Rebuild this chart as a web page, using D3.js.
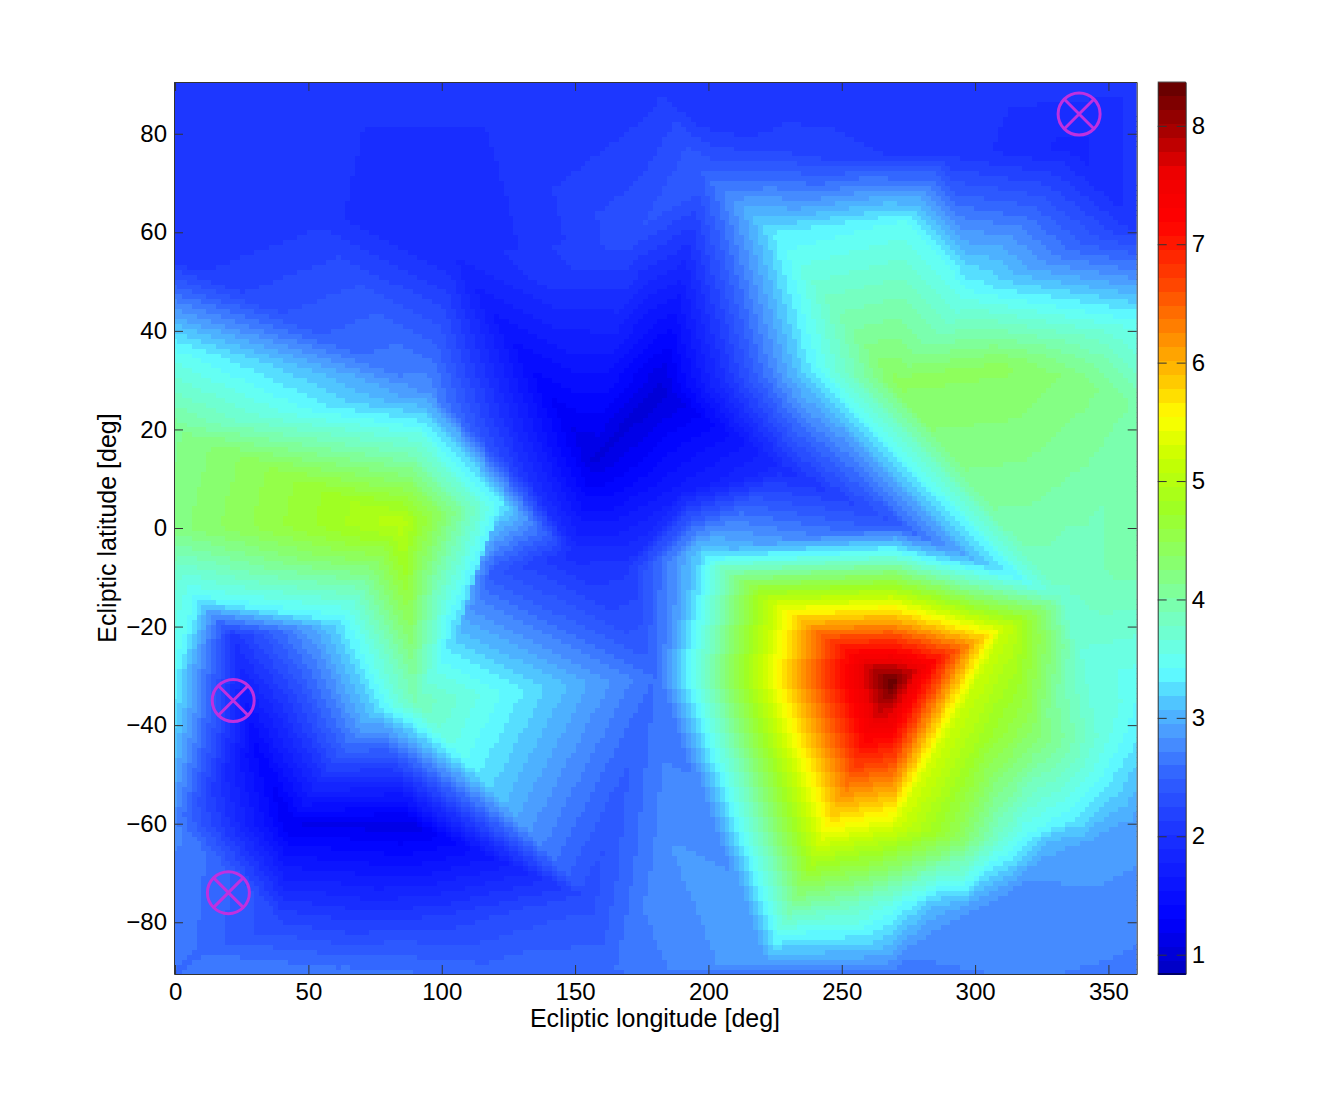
<!DOCTYPE html>
<html>
<head>
<meta charset="utf-8">
<script src="https://cdn.jsdelivr.net/npm/d3@7"></script>
<style>
  body { margin: 0; background: #fff; }
  text { font-family: "Liberation Sans", Arial, sans-serif; fill: #000; }
  .axis text { font-size: 24px; }
  .axis line, .axis path { stroke: #333; }
</style>
</head>
<body>
<script>
var nodeLon = [0,60,120,180,240,300,360,
  0,0,0,0,0,0,0,0,0,
  50,105,130,172,198,225,140,198,
  95,85,122,135,120,105,90,62,75,8,22,30,43,88,155,40,100,8,60,120,165,
  157,182,150,170,190,228,197,180,186,222,
  269,270,270,238,224,274,298,360,310,340,360,333,342,360,360,360,360,270,320,360,345,337,360,250,290,
  312,270,303,323,348,294,310,318,328,250,269,285,297,340,345,320,338,352];
var nodeLat = [90,90,90,90,90,90,90,
  55,37,20,0,-10,-30,-45,-60,-90,
  65,55,72,60,72,78,50,82,
  28,1,5,8,-9,-22,-35,-19,-37,-14,-22,-44,-60,-60,-75,-80,-80,-86,-90,-90,-90,
  14,28,-5,-8,8,12,-5,-30,-64,-88,
  -31,1,30,32,60,62,47,42,33,30,25,-14,-4,-5,-30,-42,-60,-90,-90,-90,-85,77,62,76,76,
  -20,-60,-42,-42,-42,-63,-63,-63,-63,-76,-76,-76,-78,-25,-64,-71,-59,-53];
var nodeVal = [2.05,2.05,2.05,2.08,2.1,2.1,2.05,
  2.05,3.4,4.1,4.2,3.7,3.4,3.1,2.75,2.6,
  2.05,1.9,2.05,2.35,2.5,2.15,2.05,2.1,
  2.8,5.05,3.35,2.0,2.4,3.15,3.9,3.3,3.2,3.4,2.05,1.4,1.2,1.1,2.3,2.25,2.2,2.6,2.65,2.55,2.6,
  1.05,1.0,1.95,2.1,1.7,1.95,3.2,2.6,2.84,2.95,
  8.37,2.4,4.4,3.3,3.3,3.45,3.5,3.45,4.4,4.2,4.0,3.75,3.85,4.0,3.5,3.35,2.9,2.68,2.74,2.68,2.75,1.85,2.05,2.15,2.1,
  5.15,5.3,4.8,4.3,3.6,4.4,3.7,3.4,3.1,3.9,3.55,3.1,2.84,3.65,2.9,2.84,3.3,3.25];

// triangles whose edges show in the picture, tried before the delaunay ones
var seenTriangles = [
  [0,37, 95,28, 0,20], [0,55, 95,28, 0,37], [0,20, 95,28, 85,1], [0,20, 85,1, 0,0],
  [0,55, 50,65, 95,28], [50,65, 105,55, 95,28],
  [95,28, 122,5, 85,1], [95,28, 135,8, 122,5], [95,28, 157,14, 135,8], [95,28, 105,55, 157,14],
  [157,14, 140,50, 105,55], [157,14, 172,60, 140,50], [105,55, 140,50, 172,60], [157,14, 182,28, 172,60],
  [182,28, 198,72, 172,60], [182,28, 198,72, 224,60], [182,28, 224,60, 238,32], [198,72, 225,78, 224,60],
  [224,60, 274,62, 270,30], [224,60, 270,30, 238,32],
  [182,28, 238,32, 228,12], [238,32, 270,1, 228,12], [238,32, 270,30, 270,1], [270,1, 270,30, 333,-14], [197,-5, 270,1, 228,12],
  [270,30, 310,33, 333,-14], [310,33, 340,30, 333,-14], [340,30, 342,-4, 333,-14], [340,30, 360,25, 342,-4],
  [269,-31, 270,1, 197,-5], [269,-31, 197,-5, 180,-30], [269,-31, 180,-30, 222,-88], [269,-31, 222,-88, 270,-60],
  [269,-31, 270,-60, 312,-20], [269,-31, 312,-20, 270,1], [270,1, 312,-20, 333,-14],
  [180,-30, 222,-88, 186,-64],
  [270,-60, 312,-20, 303,-42], [270,-60, 303,-42, 294,-63], [270,-60, 294,-63, 269,-76], [270,-60, 269,-76, 250,-76], [270,-60, 250,-76, 222,-88],
  [222,-88, 250,-76, 270,-90], [250,-76, 269,-76, 270,-90],
  [312,-20, 333,-14, 340,-25], [312,-20, 340,-25, 323,-42], [312,-20, 323,-42, 303,-42],
  [85,1, 90,-35, 62,-19], [85,1, 90,-35, 105,-22], [85,1, 105,-22, 122,5], [8,-14, 62,-19, 85,1], [0,0, 8,-14, 85,1],
  [90,-35, 75,-37, 62,-19], [90,-35, 105,-22, 180,-30], [90,-35, 180,-30, 155,-75], [90,-35, 155,-75, 88,-60]
];

// colormap stops
var cmapVal = [0.84,1.3,2.0,2.5,2.85,3.15,3.4,3.9,4.3,4.8,5.2,5.55,5.8,6.2,6.7,7.2,7.6,8.0,8.37];
var cmapCol = ["#0000c0","#0000ff","#1a30ff","#3060ff","#4a96ff","#50c8ff","#60ffff","#78ffb8","#88ff70","#a0ff20","#c8ff00","#ffff00","#ffd000","#ff9000","#ff4000","#ff0000","#ee0000","#a00000","#600000"];

var xTicks = [0,50,100,150,200,250,300,350];
var yTicks = [-80,-60,-40,-20,0,20,40,60,80];
var cbTicks = [1,2,3,4,5,6,7,8];

// the three circled crosses
var markerLon = [339,21.8,20];
var markerLat = [84,-35,-74];

var nBands = 64, cMin = 0.837, cMax = 8.37;
var lonStep = 1.8, latStep = 1;

var margin = {top: 82, left: 174},
    width = 962.7,
    height = 892;

var x = d3.scaleLinear().domain([-0.4, 360.6]).range([0, width]);
var y = d3.scaleLinear().domain([90.5, -90.5]).range([0, height]);

var color = d3.scaleLinear().domain(cmapVal).range(cmapCol);
var band = d3.scaleQuantize().domain([cMin, cMax]).range(d3.range(nBands));
function bandColor(i) { return color(cMin + (i + 0.5) * (cMax - cMin) / nBands); }

var svg = d3.select("body").append("svg")
    .attr("width", 1336)
    .attr("height", 1096)
    .style("display", "block");

svg.append("defs").append("clipPath").attr("id", "plot")
    .append("rect").attr("width", width).attr("height", height);

var g = svg.append("g").attr("transform", "translate(" + margin.left + "," + margin.top + ")");

// linear interpolation on triangles of the points, triangulated in screen space
var delaunay = d3.Delaunay.from(nodeLon.map(function(d, i) { return [x(d), y(nodeLat[i])]; }));

function nodeIndex(lon, lat) {
    for (var i = 0; i < nodeLon.length; i++) {
        if (nodeLon[i] == lon && nodeLat[i] == lat) return i;
    }
    throw new Error("no node " + lon + "," + lat);
}

var tri = [];
seenTriangles.forEach(function(t) {
    tri.push(nodeIndex(t[0], t[1]), nodeIndex(t[2], t[3]), nodeIndex(t[4], t[5]));
});
delaunay.triangles.forEach(function(d) { tri.push(d); });

function valueAt(lon, lat) {
    for (var t = 0; t < tri.length; t += 3) {
        var a = tri[t], b = tri[t + 1], c = tri[t + 2];
        var det = (nodeLat[b] - nodeLat[c]) * (nodeLon[a] - nodeLon[c]) + (nodeLon[c] - nodeLon[b]) * (nodeLat[a] - nodeLat[c]);
        var w1 = ((nodeLat[b] - nodeLat[c]) * (lon - nodeLon[c]) + (nodeLon[c] - nodeLon[b]) * (lat - nodeLat[c])) / det;
        var w2 = ((nodeLat[c] - nodeLat[a]) * (lon - nodeLon[c]) + (nodeLon[a] - nodeLon[c]) * (lat - nodeLat[c])) / det;
        var w3 = 1 - w1 - w2;
        if (w1 >= -1e-9 && w2 >= -1e-9 && w3 >= -1e-9) return w1 * nodeVal[a] + w2 * nodeVal[b] + w3 * nodeVal[c];
    }
    return cMin;
}

var cells = [];
d3.range(0, 201).forEach(function(i) {
    d3.range(0, 181).forEach(function(j) {
        var lon = i * lonStep, lat = -90 + j * latStep;
        cells.push({lon: lon, lat: lat, v: valueAt(lon, lat)});
    });
});

g.append("g")
    .attr("clip-path", "url(#plot)")
    .attr("shape-rendering", "crispEdges")
    .selectAll("rect")
    .data(cells)
    .enter()
    .append("rect")
    .attr("x", function(d) { return x(d.lon - lonStep / 2); })
    .attr("y", function(d) { return y(d.lat + latStep / 2); })
    .attr("width", x(lonStep) - x(0) + 0.5)
    .attr("height", y(0) - y(latStep) + 0.5)
    .attr("fill", function(d) { return bandColor(band(d.v)); });

// axes, ticks point inward on all four sides
var tickIn = 9;
g.append("g").attr("class", "axis").attr("transform", "translate(0," + height + ")")
    .call(d3.axisBottom(x).tickValues(xTicks).tickSizeInner(-tickIn).tickSizeOuter(0).tickPadding(9).tickFormat(d3.format("d")));
g.append("g").attr("class", "axis")
    .call(d3.axisLeft(y).tickValues(yTicks).tickSizeInner(-tickIn).tickSizeOuter(0).tickPadding(7).tickFormat(d3.format("d")));
g.append("g").attr("class", "axis")
    .call(d3.axisTop(x).tickValues(xTicks).tickSizeInner(-tickIn).tickSizeOuter(0).tickFormat(""));
g.append("g").attr("class", "axis").attr("transform", "translate(" + width + ",0)")
    .call(d3.axisRight(y).tickValues(yTicks).tickSizeInner(-tickIn).tickSizeOuter(0).tickFormat(""));

// markers
var markerColor = "#c030e0";
var marks = g.selectAll(".marker")
    .data(markerLon)
    .enter()
    .append("g")
    .attr("class", "marker")
    .attr("transform", function(d, i) { return "translate(" + x(d) + "," + y(markerLat[i]) + ")"; })
    .attr("fill", "none")
    .attr("stroke", markerColor)
    .attr("stroke-width", 3);
marks.append("circle").attr("r", 21);
marks.append("path").attr("d", "M-15,-15L15,15M-15,15L15,-15");

// axis labels
svg.append("text")
    .attr("x", 655)
    .attr("y", 1027)
    .attr("text-anchor", "middle")
    .style("font-size", "25px")
    .text("Ecliptic longitude [deg]");

svg.append("text")
    .attr("transform", "translate(116,528) rotate(-90)")
    .attr("text-anchor", "middle")
    .style("font-size", "25px")
    .text("Ecliptic latitude [deg]");

// colorbar
var cbX = 1157.7, cbW = 28;
var cb = svg.append("g").attr("transform", "translate(" + cbX + "," + margin.top + ")");
var cy = d3.scaleLinear().domain([cMin, cMax]).range([height, 0]);

cb.append("g")
    .attr("shape-rendering", "crispEdges")
    .selectAll("rect")
    .data(d3.range(nBands))
    .enter()
    .append("rect")
    .attr("x", 0)
    .attr("width", cbW)
    .attr("y", function(d) { return cy(cMin + (d + 1) * (cMax - cMin) / nBands); })
    .attr("height", height / nBands + 0.5)
    .attr("fill", bandColor);

cb.append("g").attr("class", "axis").attr("transform", "translate(" + cbW + ",0)")
    .call(d3.axisRight(cy).tickValues(cbTicks).tickSizeInner(-tickIn).tickSizeOuter(0).tickPadding(6).tickFormat(d3.format("d")));
cb.append("g").attr("class", "axis")
    .call(d3.axisLeft(cy).tickValues(cbTicks).tickSizeInner(-tickIn).tickSizeOuter(0).tickFormat(""));
cb.append("line").attr("x1", 0).attr("x2", cbW).attr("stroke", "#555");
cb.append("line").attr("x1", 0).attr("x2", cbW).attr("y1", height).attr("y2", height).attr("stroke", "#000");
</script>
</body>
</html>
